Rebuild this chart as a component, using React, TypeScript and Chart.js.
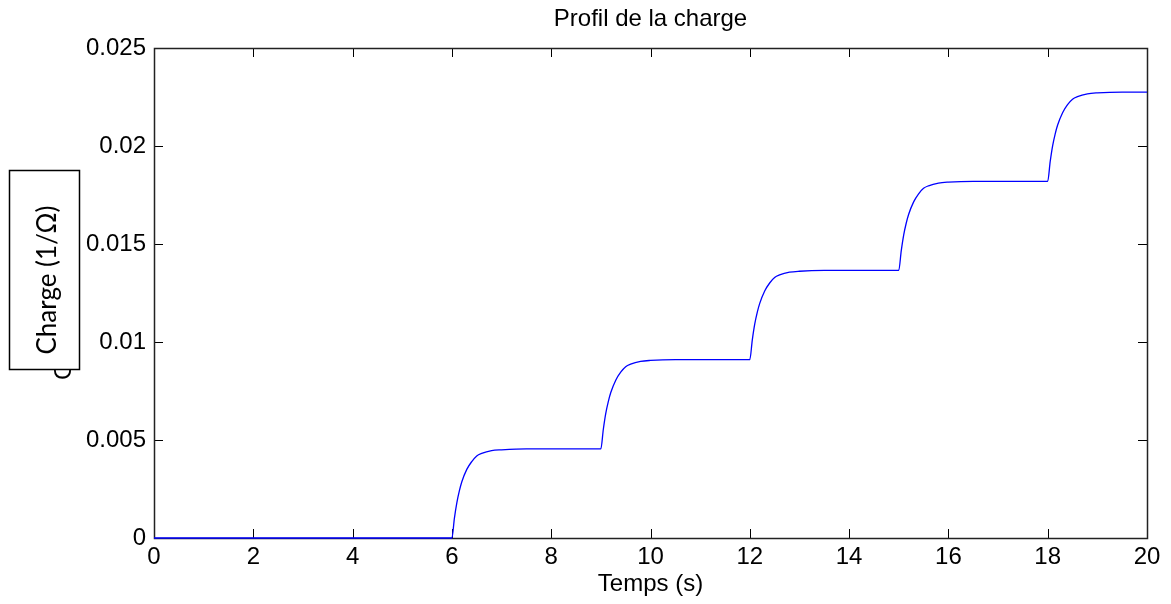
import React, { useEffect, useRef } from "react";
import { Chart, registerables } from "chart.js";

Chart.register(...registerables);

const timeS: number[] = [
  0, 6,
  6.05, 6.1, 6.15, 6.2, 6.3, 6.4, 6.5, 6.6, 6.8, 7.0, 7.5, 9,
  9.05, 9.1, 9.15, 9.2, 9.3, 9.4, 9.5, 9.6, 9.8, 10.0, 10.5, 12,
  12.05, 12.1, 12.15, 12.2, 12.3, 12.4, 12.5, 12.6, 12.8, 13.0, 13.5, 15,
  15.05, 15.1, 15.15, 15.2, 15.3, 15.4, 15.5, 15.6, 15.8, 16.0, 16.5, 18,
  18.05, 18.1, 18.15, 18.2, 18.3, 18.4, 18.5, 18.6, 18.8, 19.0, 19.5, 20,
];
const charge: number[] = [
  0, 0,
  0.0010, 0.0018, 0.0024, 0.00287, 0.0035, 0.0039, 0.00419, 0.00432, 0.00446, 0.0045, 0.00455, 0.00455,
  0.00555, 0.00637, 0.00696, 0.00742, 0.00805, 0.00846, 0.00874, 0.00887, 0.00901, 0.00906, 0.0091, 0.0091,
  0.0101, 0.01092, 0.01151, 0.01197, 0.0126, 0.01301, 0.01329, 0.01342, 0.01356, 0.01361, 0.01365, 0.01365,
  0.01465, 0.01547, 0.01606, 0.01652, 0.01715, 0.01756, 0.01784, 0.01797, 0.01811, 0.01816, 0.0182, 0.0182,
  0.0192, 0.02002, 0.02061, 0.02107, 0.0217, 0.02211, 0.02239, 0.02252, 0.02266, 0.02271, 0.02275, 0.02275,
];
const xTicks: number[] = [0, 2, 4, 6, 8, 10, 12, 14, 16, 18, 20];
const yTicks: number[] = [0, 0.005, 0.01, 0.015, 0.02, 0.025];
const yTickLabels: string[] = ["0", "0.005", "0.01", "0.015", "0.02", "0.025"];
const titleText = "Profil de la charge";
const xLabel = "Temps (s)";
const yLabelHidden = "Charge (1/Ω)";
const boxLabel = "Charge (1/Ω)";

const FONT = "Liberation Sans, Arial, Helvetica, sans-serif";

export default function App() {
  const ref = useRef<HTMLCanvasElement | null>(null);
  useEffect(() => {
    const canvas = ref.current;
    if (!canvas) return;
    const framePlugin = {
      id: "matlabFrame",
      beforeDatasetsDraw(chart: any) {
        const ctx = chart.ctx;
        const { left, right, top, bottom } = chart.chartArea;
        const xs = chart.scales.x;
        const ys = chart.scales.y;
        ctx.save();
        ctx.strokeStyle = "#000";
        ctx.lineWidth = 1;
        const tl = 9;
        ctx.beginPath();
        for (const t of xTicks) {
          const px = Math.round(xs.getPixelForValue(t)) + 0.5;
          ctx.moveTo(px, bottom);
          ctx.lineTo(px, bottom - tl);
          ctx.moveTo(px, top);
          ctx.lineTo(px, top + tl);
        }
        for (const t of yTicks) {
          const py = Math.round(ys.getPixelForValue(t)) + 0.5;
          ctx.moveTo(left, py);
          ctx.lineTo(left + tl, py);
          ctx.moveTo(right, py);
          ctx.lineTo(right - tl, py);
        }
        ctx.stroke();
        ctx.lineWidth = 1.5;
        ctx.strokeStyle = "#222";
        ctx.strokeRect(Math.round(left) + 0.5, Math.round(top) + 0.5, Math.round(right - left), Math.round(bottom - top));
        ctx.restore();
      },
      afterDraw(chart: any) {
        const ctx = chart.ctx;
        const { left, right } = chart.chartArea;
        ctx.save();
        ctx.fillStyle = "#000";
        ctx.font = `24px ${FONT}`;
        ctx.textAlign = "center";
        ctx.textBaseline = "middle";
        ctx.fillText(titleText, (left + right) / 2, 19);
        ctx.fillText(xLabel, (left + right) / 2, 584);
        // hidden original y label
        ctx.save();
        ctx.translate(64, 380);
        ctx.rotate(-Math.PI / 2);
        ctx.textAlign = "left";
        ctx.textBaseline = "middle";
        ctx.fillText(yLabelHidden, 0, 0);
        ctx.restore();
        // overlay box
        ctx.fillStyle = "#fff";
        ctx.fillRect(9, 170, 70, 199);
        ctx.strokeStyle = "#000";
        ctx.lineWidth = 1.5;
        ctx.strokeRect(9.5, 170.5, 70, 199);
        ctx.fillStyle = "#000";
        ctx.translate(48, 280);
        ctx.rotate(-Math.PI / 2);
        ctx.font = `26px Lato, ${FONT}`;
        ctx.textAlign = "center";
        ctx.textBaseline = "middle";
        ctx.fillText(boxLabel, 0, 0);
        ctx.restore();
      },
    };
    const chart = new Chart(canvas, {
      type: "line",
      data: {
        datasets: [
          {
            data: timeS.map((t, i) => ({ x: t, y: charge[i] })),
            borderColor: "#0000ff",
            borderWidth: 1.3,
            pointRadius: 0,
            fill: false,
            cubicInterpolationMode: "monotone",
            clip: 3,
          },
        ],
      },
      options: {
        animation: false,
        responsive: false,
        maintainAspectRatio: false,
        layout: { padding: { top: 48, right: 24, left: 0, bottom: 0 } },
        plugins: { legend: { display: false }, title: { display: false }, tooltip: { enabled: false } },
        scales: {
          x: {
            type: "linear",
            min: 0,
            max: 20,
            afterBuildTicks: (s: any) => {
              s.ticks = xTicks.map((v) => ({ value: v }));
            },
            afterFit: (s: any) => {
              s.height = 66;
            },
            grid: { display: false, drawTicks: false },
            border: { display: false },
            ticks: {
              color: "#000",
              font: { family: FONT, size: 24 },
              padding: 5,
              maxRotation: 0,
              autoSkip: false,
              callback: (v: any) => String(v),
            },
          },
          y: {
            type: "linear",
            min: 0,
            max: 0.025,
            afterBuildTicks: (s: any) => {
              s.ticks = yTicks.map((v) => ({ value: v }));
            },
            afterFit: (s: any) => {
              s.width = 154;
            },
            grid: { display: false, drawTicks: false },
            border: { display: false },
            ticks: {
              color: "#000",
              font: { family: FONT, size: 24 },
              padding: 8,
              autoSkip: false,
              callback: (_v: any, i: number) => yTickLabels[i],
            },
          },
        },
      },
      plugins: [framePlugin],
    } as any);
    return () => chart.destroy();
  }, []);
  return (
    <div style={{ position: "absolute", left: 0, top: 0, width: 1171, height: 604, background: "#fff" }}>
      <canvas ref={ref} width={1171} height={604} />
    </div>
  );
}
